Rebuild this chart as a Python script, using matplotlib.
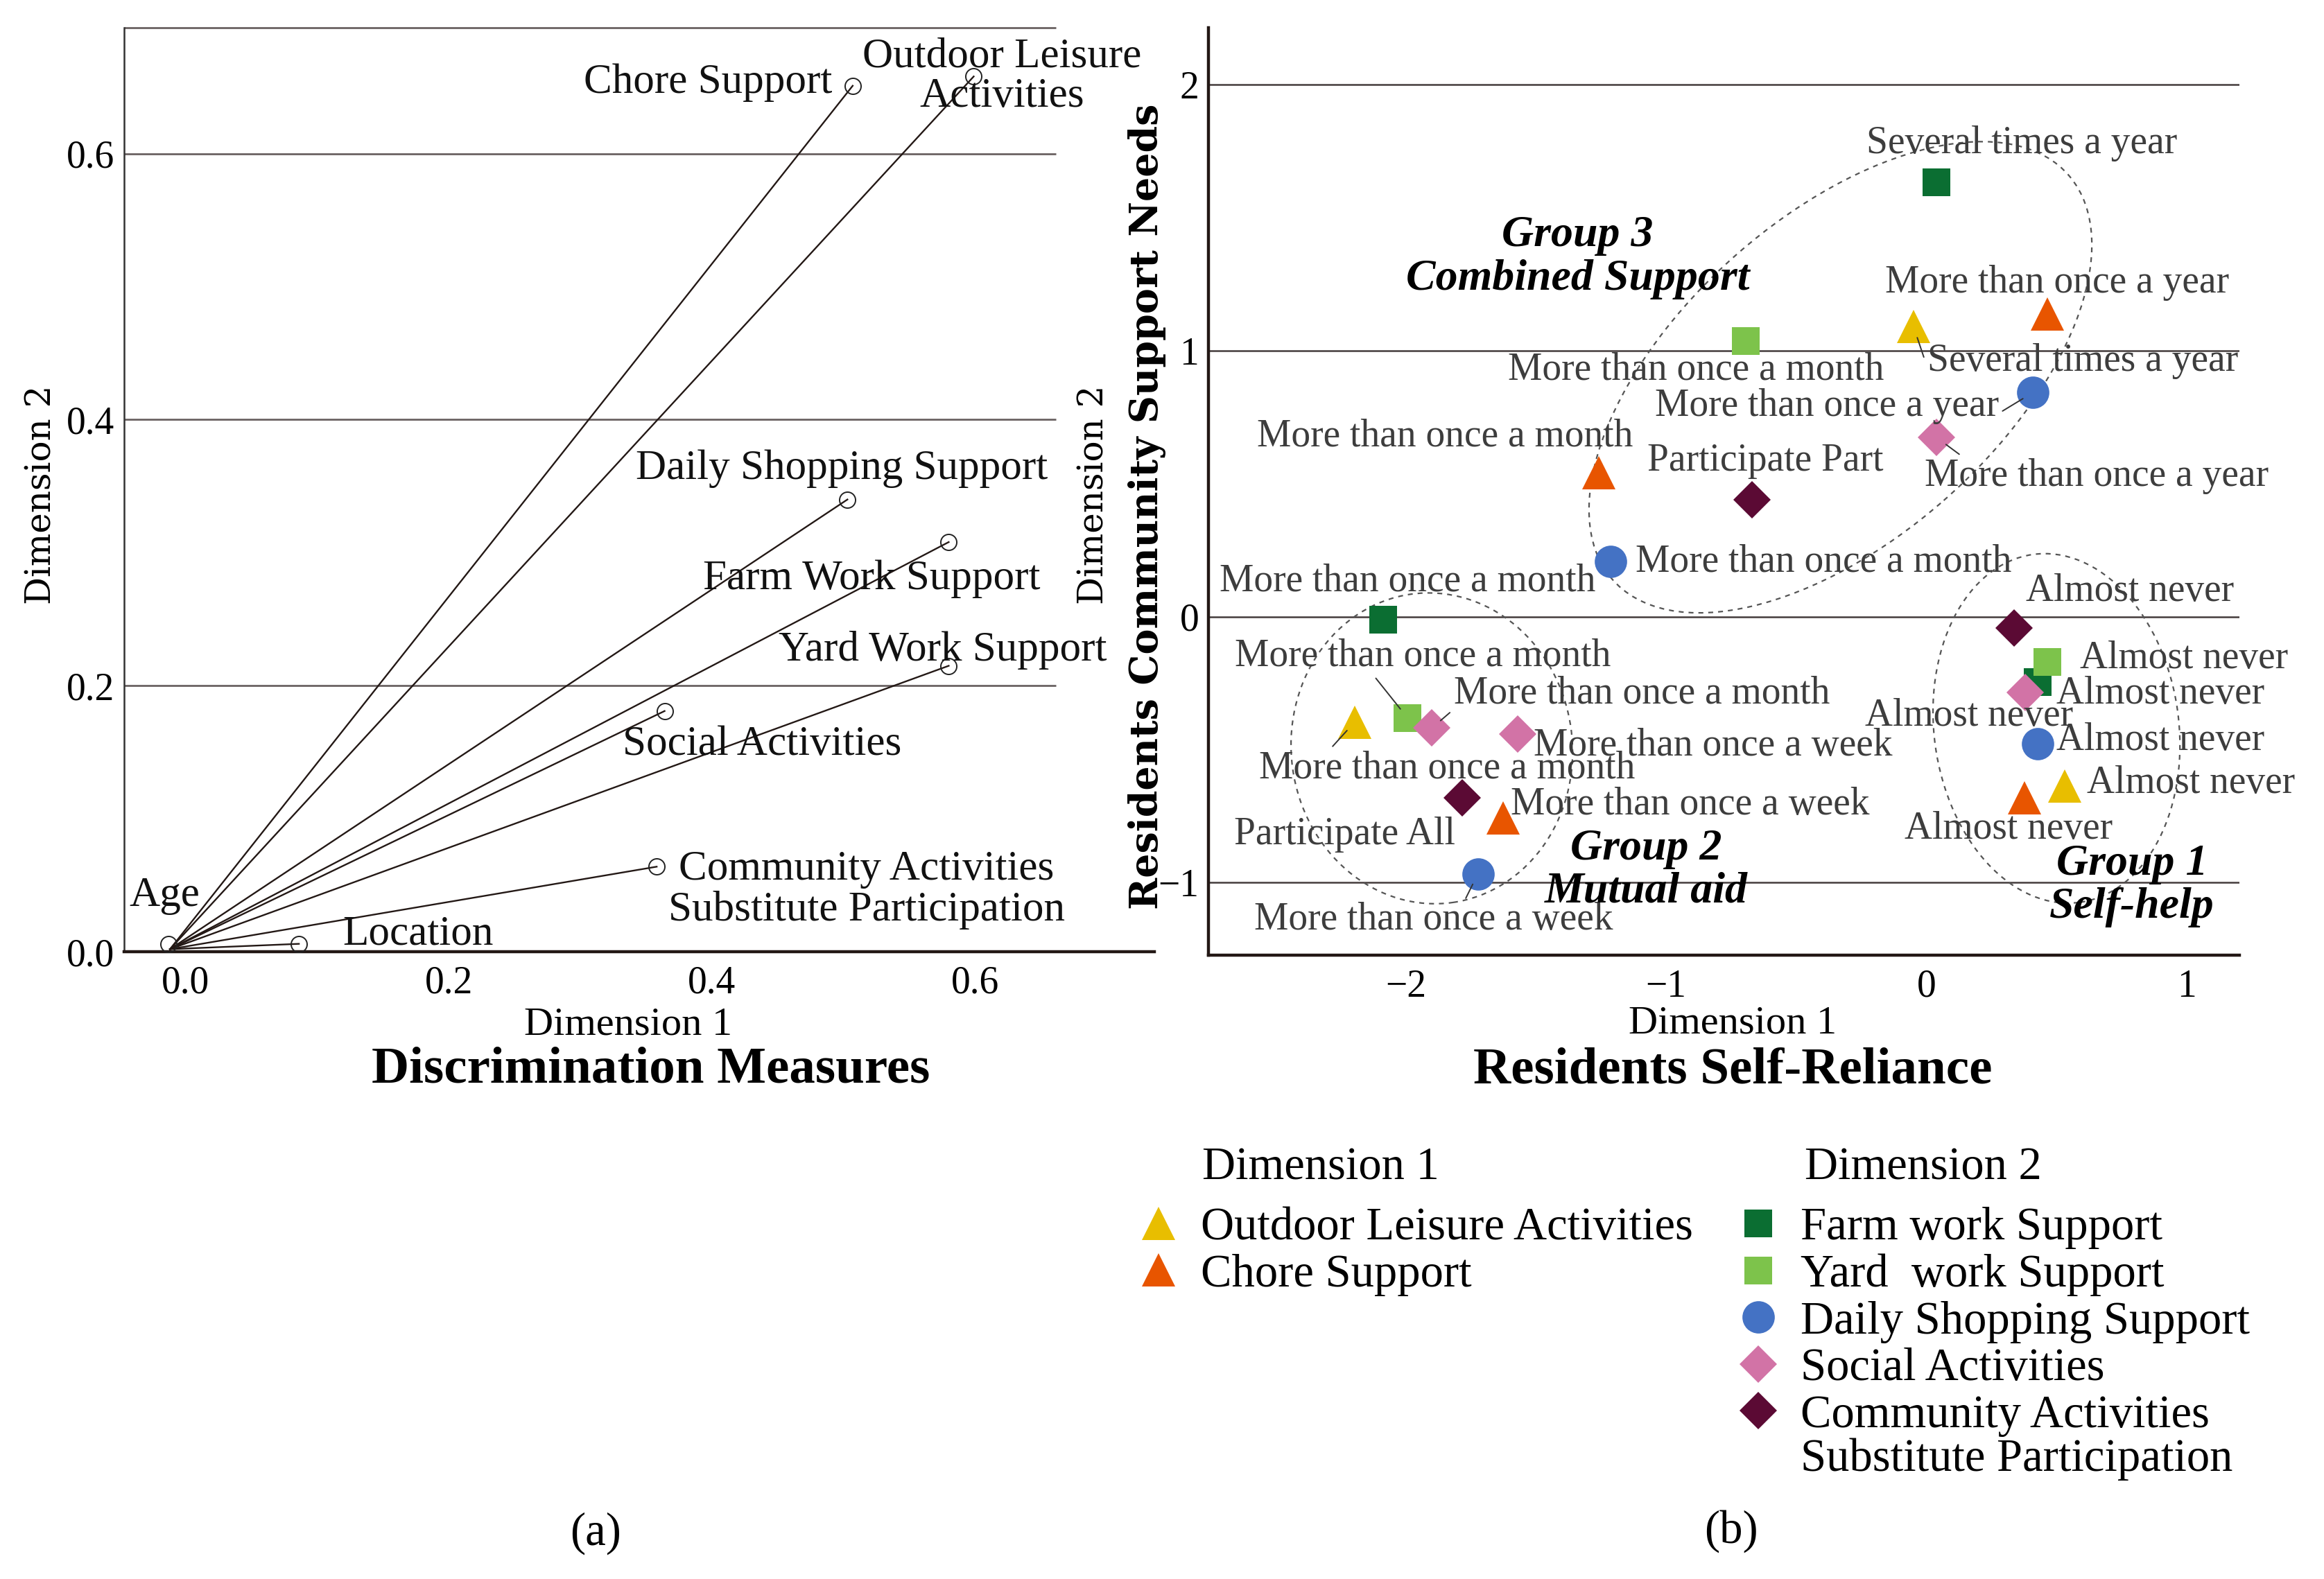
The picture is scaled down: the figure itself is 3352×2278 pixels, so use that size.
import matplotlib
matplotlib.use("Agg")
import matplotlib.pyplot as plt
from matplotlib.patches import Ellipse

plt.rcParams["font.family"] = ["Liberation Serif", "DejaVu Serif"]

# ---- (a) discrimination measures -------------------------------------------
MEASURES = ["Chore Support", "Outdoor Leisure\nActivities", "Daily Shopping Support",
            "Farm Work Support", "Yard Work Support", "Social Activities",
            "Community Activities\nSubstitute Participation", "Location", "Age"]
MEASURE_DIM1 = [0.507, 0.599, 0.503, 0.580, 0.580, 0.364, 0.358, 0.086, -0.013]
MEASURE_DIM2 = [0.651, 0.658, 0.340, 0.308, 0.215, 0.181, 0.064, 0.006, 0.006]
# lines fan out from this point (drawn at the Age marker)
FAN_ORIGIN = (-0.012, 0.002)

# ---- (b) category quantifications -------------------------------------------
FARM_DIM1 = [0.040, -2.088, 0.427]
FARM_DIM2 = [1.634, -0.012, -0.246]
FARM_CATS = ["Several times a year", "More than once a month", "Almost never"]

YARD_DIM1 = [-0.693, -1.993, 0.465]
YARD_DIM2 = [1.036, -0.381, -0.171]
YARD_CATS = ["More than once a month", "More than once a month", "Almost never"]

DAILY_DIM1 = [0.409, -1.213, -1.723, 0.427]
DAILY_DIM2 = [0.842, 0.207, -0.967, -0.479]
DAILY_CATS = ["More than once a year", "More than once a month", "More than once a week",
              "Almost never"]

SOCIAL_DIM1 = [0.040, -1.900, -1.571, 0.379]
SOCIAL_DIM2 = [0.673, -0.419, -0.441, -0.286]
SOCIAL_CATS = ["More than once a year", "More than once a month", "More than once a week",
               "Almost never"]

COMMUNITY_DIM1 = [-0.669, -1.782, 0.338]
COMMUNITY_DIM2 = [0.440, -0.682, -0.043]
COMMUNITY_CATS = ["Participate Part", "Participate All", "Almost never"]

OUTDOOR_DIM1 = [-0.049, -2.196, 0.531]
OUTDOOR_DIM2 = [1.090, -0.396, -0.637]
OUTDOOR_CATS = ["Several times a year", "More than once a month", "Almost never"]

CHORE_DIM1 = [0.465, -1.258, -1.627, 0.376]
CHORE_DIM2 = [1.139, 0.540, -0.757, -0.682]
CHORE_CATS = ["More than once a year", "More than once a month", "More than once a week",
              "Almost never"]

GROUP_NAMES = ["Group 3\nCombined Support", "Group 2\nMutual aid", "Group 1\nSelf-help"]
GROUP_TEXT_DIM1 = [-1.34, -1.076, 0.79]
GROUP_TEXT_DIM2 = [1.35, -0.954, -1.012]
GROUP_CENTER_DIM1 = [-0.33, -1.90, 0.50]
GROUP_CENTER_DIM2 = [0.90, -0.495, -0.42]
GROUP_WIDTH = [2.32, 1.08, 0.94]
GROUP_HEIGHT = [1.22, 1.17, 1.32]
GROUP_ANGLE = [40.6, 8.0, 8.0]

# label placement: (dx pt, dy pt, ha, leader relpos or None)
FARM_LAYOUT = [(44, 20, "center", None), (13, 20, "center", None), (10, -6, "left", None)]
YARD_LAYOUT = [(-26, -15, "center", None), (8, 32, "center", (0.355, 0.15)),
               (17, 2, "left", None)]
DAILY_LAYOUT = [(-107, -7, "center", (1.0, 0.3)), (13, 0, "left", None),
                (-23, -24, "center", (0.577, 0.85)), (10, 2, "left", None)]
SOCIAL_LAYOUT = [(83, -20, "center", (0.13, 0.9)), (109, 18, "center", (0.01, 0.15)),
                 (8.5, -6, "left", None), (-29, -12, "center", None)]
COMMUNITY_LAYOUT = [(7, 20, "center", None), (-61, -19, "center", None),
                    (60, 19, "center", None)]
OUTDOOR_LAYOUT = [(88, -18, "center", (0.0, 0.3)), (48, -24, "center", (0.16, 0.7)),
                  (11.6, 1.6, "left", None)]
CHORE_LAYOUT = [(5, 16, "center", None), (-80, 19, "center", None),
                (4, 7, "left", None), (-8, -16, "center", None)]

MEASURE_LAYOUT = [(-10.6, 1.7, "right"), (14.7, 0, "center"), (-3, 16, "center"),
                  (-40, -19, "center"), (-3, 8, "center"), (50.7, -17.4, "center"),
                  (109, -12, "center"), (62, 5, "center"), (-2, 25, "center")]

YELLOW, ORANGE = "#E8BE00", "#E85500"
DARK_GREEN, LIGHT_GREEN = "#0B6E32", "#7DC34B"
BLUE, PINK, PLUM = "#4472C4", "#D273A6", "#5B0A34"
GRID_A, GRID_B, INK = "#6a6262", "#443c3c", "#231815"
LABEL_GRAY = "#3d3d3d"


def label_points(ax, xs, ys, cats, layout):
    for x, y, text, (dx, dy, ha, relpos) in zip(xs, ys, cats, layout):
        arrow = None
        if relpos is not None:
            arrow = dict(arrowstyle="-", color="#333333", lw=0.7, relpos=relpos,
                         shrinkA=0, shrinkB=6)
        ax.annotate(text, (x, y), xytext=(dx, dy), textcoords="offset points",
                    ha=ha, va="center", fontsize=20, color=LABEL_GRAY,
                    arrowprops=arrow, zorder=5)


fig = plt.figure(figsize=(16.76, 11.39), dpi=200)

# ---------------------------------------------------------------- panel (a)
ax_a = fig.add_axes([0.0534, 0.3972, 0.4434, 0.5853])
ax_a.set_xlim(-0.0469, 0.7365)
ax_a.set_ylim(0.0, 0.6947)
grid_end = 0.6617
for yv in [0.2, 0.4, 0.6, 0.6947]:
    ax_a.hlines(yv, -0.0469, grid_end, color=GRID_A, lw=1.0, zorder=1, clip_on=False)
for x, y in zip(MEASURE_DIM1[:-1], MEASURE_DIM2[:-1]):
    ax_a.plot([FAN_ORIGIN[0], x], [FAN_ORIGIN[1], y], color=INK, lw=0.85, zorder=2)
ax_a.plot(MEASURE_DIM1, MEASURE_DIM2, "o", ms=8.3, mfc="none", mec="#222222", mew=0.7,
          linestyle="none", zorder=3, clip_on=False)
for x, y, text, (dx, dy, ha) in zip(MEASURE_DIM1, MEASURE_DIM2, MEASURES, MEASURE_LAYOUT):
    ax_a.annotate(text, (x, y), xytext=(dx, dy), textcoords="offset points", ha=ha,
                  va="center", fontsize=22, color="#111111", multialignment="center",
                  linespacing=1.05, zorder=4)
ax_a.set_xticks([0.0, 0.2, 0.4, 0.6])
ax_a.set_yticks([0.0, 0.2, 0.4, 0.6])
ax_a.set_xticklabels(["0.0", "0.2", "0.4", "0.6"])
ax_a.set_yticklabels(["0.0", "0.2", "0.4", "0.6"])
ax_a.tick_params(length=0, labelsize=20, pad=5)
ax_a.tick_params(axis="x", pad=7)
for side in ["top", "right"]:
    ax_a.spines[side].set_visible(False)
ax_a.spines["left"].set_linewidth(0.9)
ax_a.spines["left"].set_color("#333333")
ax_a.spines["bottom"].set_linewidth(1.6)
ax_a.spines["bottom"].set_color(INK)

# ---------------------------------------------------------------- panel (b)
ax_b = fig.add_axes([0.520, 0.395, 0.4435, 0.5873])
ax_b.set_xlim(-2.758, 1.202)
ax_b.set_ylim(-1.273, 2.213)
ax_b.set_xticks([-2, -1, 0, 1])
ax_b.set_yticks([-1, 0, 1, 2])
ax_b.tick_params(length=0, labelsize=20, pad=5)
ax_b.tick_params(axis="x", pad=7)
ax_b.yaxis.grid(True, color=GRID_B, lw=0.9)
ax_b.set_axisbelow(True)
for side in ["top", "right"]:
    ax_b.spines[side].set_visible(False)
for side in ["left", "bottom"]:
    ax_b.spines[side].set_linewidth(1.6)
    ax_b.spines[side].set_color(INK)

for cx, cy, w, h, ang in zip(GROUP_CENTER_DIM1, GROUP_CENTER_DIM2, GROUP_WIDTH,
                             GROUP_HEIGHT, GROUP_ANGLE):
    ax_b.add_patch(Ellipse((cx, cy), w, h, angle=ang, fill=False, ec="#555555",
                           lw=0.8, ls=(0, (3.2, 3.2)), zorder=2))

series = [
    ("Farm work Support", FARM_DIM1, FARM_DIM2, FARM_CATS, "s", DARK_GREEN, 14.4, FARM_LAYOUT),
    ("Yard  work Support", YARD_DIM1, YARD_DIM2, YARD_CATS, "s", LIGHT_GREEN, 14.4, YARD_LAYOUT),
    ("Daily Shopping Support", DAILY_DIM1, DAILY_DIM2, DAILY_CATS, "o", BLUE, 16.8, DAILY_LAYOUT),
    ("Social Activities", SOCIAL_DIM1, SOCIAL_DIM2, SOCIAL_CATS, "D", PINK, 14.0, SOCIAL_LAYOUT),
    ("Community Activities\nSubstitute Participation", COMMUNITY_DIM1, COMMUNITY_DIM2,
     COMMUNITY_CATS, "D", PLUM, 14.0, COMMUNITY_LAYOUT),
    ("Outdoor Leisure Activities", OUTDOOR_DIM1, OUTDOOR_DIM2, OUTDOOR_CATS, "^", YELLOW, 17.0,
     OUTDOOR_LAYOUT),
    ("Chore Support", CHORE_DIM1, CHORE_DIM2, CHORE_CATS, "^", ORANGE, 17.0, CHORE_LAYOUT),
]
handles = {}
for name, xs, ys, cats, marker, color, size, layout in series:
    (h,) = ax_b.plot(xs, ys, marker=marker, ms=size, color=color, mew=0,
                     linestyle="none", zorder=3, label=name)
    handles[name] = h
    label_points(ax_b, xs, ys, cats, layout)

for name, gx, gy in zip(GROUP_NAMES, GROUP_TEXT_DIM1, GROUP_TEXT_DIM2):
    ax_b.text(gx, gy, name, ha="center", va="center", fontsize=23, fontweight="bold",
              fontstyle="italic", linespacing=1.1, zorder=5)

# ---------------------------------------------------------------- labels
fig.text(0.0178, 0.6868, "Dimension 2", rotation=90, ha="center", va="center",
         fontsize=18, family="DejaVu Serif")
fig.text(0.4708, 0.6868, "Dimension 2", rotation=90, ha="center", va="center",
         fontsize=18, family="DejaVu Serif")
fig.text(0.4936, 0.679, "Residents Community Support Needs", rotation=90, ha="center",
         va="center", fontsize=20, family="DejaVu Serif", fontweight="bold")
fig.text(0.2702, 0.351, "Dimension 1", ha="center", va="center", fontsize=21)
fig.text(0.2799, 0.3226, "Discrimination Measures", ha="center", va="center",
         fontsize=27, fontweight="bold")
fig.text(0.7455, 0.3519, "Dimension 1", ha="center", va="center", fontsize=21)
fig.text(0.7455, 0.3222, "Residents Self-Reliance", ha="center", va="center",
         fontsize=27, fontweight="bold")
fig.text(0.2564, 0.0288, "(a)", ha="center", va="center", fontsize=24)
fig.text(0.7449, 0.0302, "(b)", ha="center", va="center", fontsize=24)

# ---------------------------------------------------------------- legend
fig.text(0.5173, 0.2605, "Dimension 1", ha="left", va="center", fontsize=24)
fig.text(0.7767, 0.2605, "Dimension 2", ha="left", va="center", fontsize=24)
leg_kw = dict(loc="upper left", frameon=False, fontsize=24, handlelength=1.0,
              handletextpad=0.42, labelspacing=0.1, borderpad=0, borderaxespad=0)
dim1_names = ["Outdoor Leisure Activities", "Chore Support"]
dim2_names = ["Farm work Support", "Yard  work Support", "Daily Shopping Support",
              "Social Activities", "Community Activities\nSubstitute Participation"]
leg1 = fig.legend([handles[n] for n in dim1_names], dim1_names,
                  bbox_to_anchor=(0.4885, 0.2358), **leg_kw)
leg2 = fig.legend([handles[n] for n in dim2_names], dim2_names,
                  bbox_to_anchor=(0.7465, 0.2358), **leg_kw)
for t in leg2.get_texts():
    t.set_linespacing(1.03)
# keep the marker of the two-line entry level with its first line
try:
    leg2._legend_handle_box.get_children()[0].get_children()[-1].align = "top"
except (AttributeError, IndexError):
    pass

fig.savefig("out.png", dpi=200)
